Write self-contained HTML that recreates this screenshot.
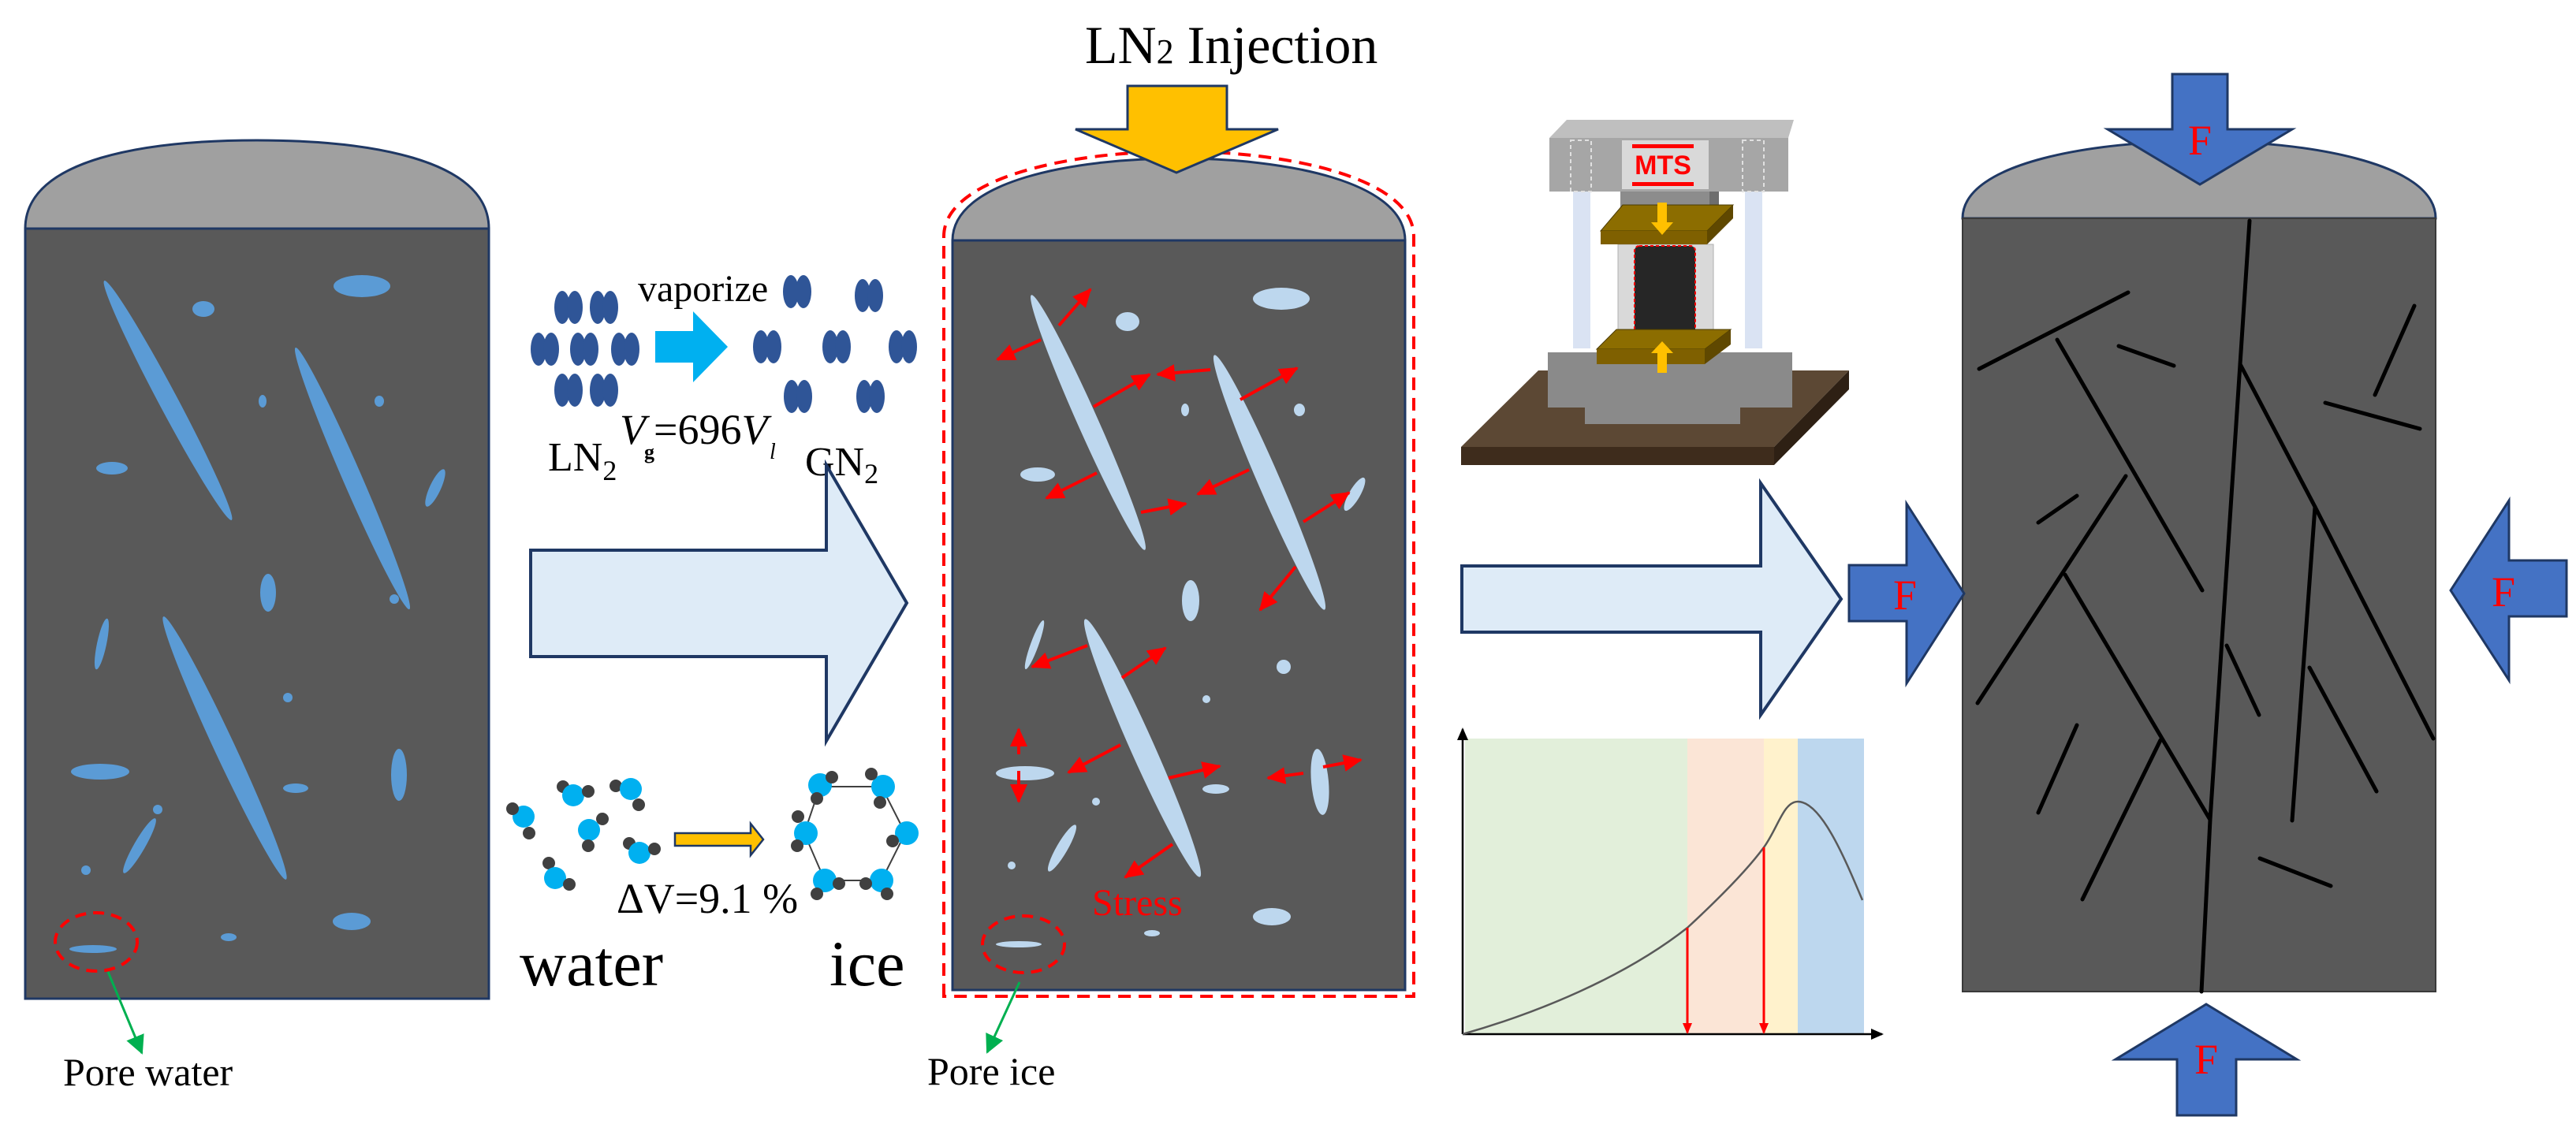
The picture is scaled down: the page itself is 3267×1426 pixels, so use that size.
<!DOCTYPE html>
<html><head><meta charset="utf-8"><style>
html,body{margin:0;padding:0;background:#fff;}
svg{display:block;}
svg text{font-family:"Liberation Serif","DejaVu Serif",serif;}
</style></head><body>
<svg xmlns="http://www.w3.org/2000/svg" width="3267" height="1426" viewBox="0 0 3267 1426" font-family="'Liberation Serif', serif">
<defs>
<marker id="ra" markerUnits="userSpaceOnUse" markerWidth="26" markerHeight="22" refX="22" refY="11" orient="auto"><path d="M0,0 L24,11 L0,22 Z" fill="#ff0000"/></marker>
<marker id="ga" markerUnits="userSpaceOnUse" markerWidth="26" markerHeight="24" refX="22" refY="12" orient="auto"><path d="M0,0 L24,12 L0,24 Z" fill="#00b050"/></marker>
<marker id="ka" markerUnits="userSpaceOnUse" markerWidth="16" markerHeight="14" refX="14" refY="7" orient="auto"><path d="M0,0 L16,7 L0,14 Z" fill="#000"/></marker>
<marker id="rd" markerUnits="userSpaceOnUse" markerWidth="14" markerHeight="12" refX="12" refY="6" orient="auto"><path d="M0,0 L14,6 L0,12 Z" fill="#ff0000"/></marker>
</defs>

<!-- LEFT CYLINDER -->
<path d="M32,290 C32,200 190,178 326,178 C462,178 620,200 620,290 Z" fill="#a0a0a0" stroke="#1f3864" stroke-width="3"/>
<rect x="32" y="290" width="588" height="977" fill="#595959" stroke="#1f3864" stroke-width="3"/>
<g fill="#5b9bd5">
<ellipse cx="213" cy="508" rx="172" ry="12" transform="rotate(62 213 508)"/>
<ellipse cx="447" cy="607" rx="181" ry="12" transform="rotate(66.5 447 607)"/>
<ellipse cx="285" cy="949" rx="184" ry="13" transform="rotate(65 285 949)"/>
<ellipse cx="258" cy="392" rx="14" ry="10"/>
<ellipse cx="459" cy="363" rx="36" ry="14"/>
<ellipse cx="333" cy="509" rx="5" ry="8"/>
<ellipse cx="481" cy="509" rx="6" ry="7"/>
<ellipse cx="142" cy="594" rx="20" ry="8"/>
<ellipse cx="552" cy="619" rx="7" ry="26" transform="rotate(25 552 619)"/>
<ellipse cx="340" cy="752" rx="10" ry="24"/>
<ellipse cx="129" cy="817" rx="6" ry="33" transform="rotate(12 129 817)"/>
<circle cx="365" cy="885" r="6"/>
<ellipse cx="127" cy="979" rx="37" ry="10"/>
<ellipse cx="375" cy="1000" rx="16" ry="6"/>
<ellipse cx="506" cy="983" rx="10" ry="33"/>
<circle cx="200" cy="1027" r="6"/>
<ellipse cx="177" cy="1073" rx="7" ry="40" transform="rotate(30 177 1073)"/>
<circle cx="500" cy="760" r="6"/>
<circle cx="109" cy="1104" r="6"/>
<ellipse cx="446" cy="1169" rx="24" ry="11"/>
<ellipse cx="290" cy="1189" rx="10" ry="5"/>
<ellipse cx="118" cy="1204" rx="30" ry="5"/>
</g>
<ellipse cx="122" cy="1195" rx="52" ry="37" fill="none" stroke="#ff0000" stroke-width="4" stroke-dasharray="14,9"/>
<line x1="137" y1="1233" x2="180" y2="1336" stroke="#00b050" stroke-width="3" marker-end="url(#ga)"/>
<text x="80" y="1377" font-size="50">Pore water</text>

<!-- vaporize -->
<g fill="#2f5597">
<g transform="translate(721,390)"><ellipse cx="-8" cy="0" rx="10" ry="21"/><ellipse cx="8" cy="0" rx="10" ry="21"/></g>
<g transform="translate(766,390)"><ellipse cx="-8" cy="0" rx="10" ry="21"/><ellipse cx="8" cy="0" rx="10" ry="21"/></g>
<g transform="translate(691,443)"><ellipse cx="-8" cy="0" rx="10" ry="21"/><ellipse cx="8" cy="0" rx="10" ry="21"/></g>
<g transform="translate(741,443)"><ellipse cx="-8" cy="0" rx="10" ry="21"/><ellipse cx="8" cy="0" rx="10" ry="21"/></g>
<g transform="translate(793,443)"><ellipse cx="-8" cy="0" rx="10" ry="21"/><ellipse cx="8" cy="0" rx="10" ry="21"/></g>
<g transform="translate(721,495)"><ellipse cx="-8" cy="0" rx="10" ry="21"/><ellipse cx="8" cy="0" rx="10" ry="21"/></g>
<g transform="translate(766,495)"><ellipse cx="-8" cy="0" rx="10" ry="21"/><ellipse cx="8" cy="0" rx="10" ry="21"/></g>
<g transform="translate(1011,370)"><ellipse cx="-8" cy="0" rx="10" ry="21"/><ellipse cx="8" cy="0" rx="10" ry="21"/></g>
<g transform="translate(1102,375)"><ellipse cx="-8" cy="0" rx="10" ry="21"/><ellipse cx="8" cy="0" rx="10" ry="21"/></g>
<g transform="translate(973,440)"><ellipse cx="-8" cy="0" rx="10" ry="21"/><ellipse cx="8" cy="0" rx="10" ry="21"/></g>
<g transform="translate(1061,440)"><ellipse cx="-8" cy="0" rx="10" ry="21"/><ellipse cx="8" cy="0" rx="10" ry="21"/></g>
<g transform="translate(1145,440)"><ellipse cx="-8" cy="0" rx="10" ry="21"/><ellipse cx="8" cy="0" rx="10" ry="21"/></g>
<g transform="translate(1012,503)"><ellipse cx="-8" cy="0" rx="10" ry="21"/><ellipse cx="8" cy="0" rx="10" ry="21"/></g>
<g transform="translate(1104,503)"><ellipse cx="-8" cy="0" rx="10" ry="21"/><ellipse cx="8" cy="0" rx="10" ry="21"/></g>
</g>
<path d="M831,420 L879,420 L879,395 L923,440 L879,485 L879,460 L831,460 Z" fill="#00b0f0"/>
<text x="809" y="382" font-size="48">vaporize</text>
<text x="695" y="597" font-size="52">LN<tspan font-size="36" dy="12">2</tspan></text>
<text x="786" y="563" font-size="54" font-style="italic">V</text>
<text x="817" y="582" font-size="26" font-weight="bold">g</text>
<text x="829" y="563" font-size="54">=696<tspan font-style="italic">V</tspan></text>
<text x="976" y="582" font-size="28" font-style="italic">l</text>
<text x="1021" y="603" font-size="52">GN<tspan font-size="36" dy="10">2</tspan></text>

<!-- big arrow 1 -->
<path d="M673,698 L1048,698 L1048,590 L1150,765 L1048,940 L1048,833 L673,833 Z" fill="#deebf7" stroke="#1f3864" stroke-width="4"/>

<!-- water -> ice -->
<g>
<g fill="#404040"><circle cx="714" cy="998" r="8"/><circle cx="781" cy="997" r="8"/><circle cx="798" cy="1070" r="8"/><circle cx="696" cy="1095" r="8"/></g>
<g fill="#00b0f0"><circle cx="664" cy="1036" r="14"/><circle cx="727" cy="1009" r="14"/><circle cx="800" cy="1001" r="14"/><circle cx="747" cy="1053" r="14"/><circle cx="811" cy="1082" r="14"/><circle cx="704" cy="1114" r="14"/></g>
<g fill="#404040"><circle cx="650" cy="1026" r="8"/><circle cx="671" cy="1057" r="8"/><circle cx="746" cy="1004" r="8"/><circle cx="810" cy="1021" r="8"/><circle cx="764" cy="1039" r="8"/><circle cx="746" cy="1073" r="8"/><circle cx="830" cy="1077" r="8"/><circle cx="722" cy="1122" r="8"/></g>
</g>
<path d="M856,1057 L952,1057 L952,1045 L968,1065 L952,1085 L952,1073 L856,1073 Z" fill="#ffc000" stroke="#1f3864" stroke-width="2.5"/>
<text x="782" y="1158" font-size="54">ΔV=9.1 %</text>
<text x="659" y="1250" font-size="82">water</text>
<text x="1052" y="1250" font-size="82">ice</text>
<!-- ice hexagon -->
<polygon points="1040,998 1118,998 1148,1057 1118,1117 1046,1117 1020,1057" fill="none" stroke="#404040" stroke-width="2"/>
<g fill="#00b0f0"><circle cx="1040" cy="996" r="15"/><circle cx="1120" cy="998" r="15"/><circle cx="1150" cy="1057" r="15"/><circle cx="1118" cy="1117" r="15"/><circle cx="1046" cy="1117" r="15"/><circle cx="1022" cy="1057" r="15"/></g>
<g fill="#404040"><circle cx="1055" cy="986" r="8"/><circle cx="1105" cy="982" r="8"/><circle cx="1036" cy="1013" r="8"/><circle cx="1116" cy="1018" r="8"/><circle cx="1012" cy="1036" r="8"/><circle cx="1011" cy="1073" r="8"/><circle cx="1132" cy="1067" r="8"/><circle cx="1064" cy="1121" r="8"/><circle cx="1098" cy="1121" r="8"/><circle cx="1036" cy="1134" r="8"/><circle cx="1125" cy="1134" r="8"/></g>

<!-- MIDDLE CYLINDER -->
<path d="M1197,1264 L1197,300 C1197,225 1360,192 1495,192 C1630,192 1793,225 1793,300 L1793,1264 Z" fill="none" stroke="#ff0000" stroke-width="4" stroke-dasharray="16,10"/>
<path d="M1208,305 C1208,230 1360,201 1495,201 C1630,201 1782,230 1782,305 Z" fill="#a0a0a0" stroke="#1f3864" stroke-width="3"/>
<rect x="1208" y="305" width="574" height="951" fill="#595959" stroke="#1f3864" stroke-width="3"/>
<g fill="#bdd7ee">
<ellipse cx="1380" cy="536" rx="177" ry="13" transform="rotate(66 1380 536)"/>
<ellipse cx="1610" cy="612" rx="176" ry="14" transform="rotate(66.6 1610 612)"/>
<ellipse cx="1449" cy="949" rx="179" ry="15" transform="rotate(66 1449 949)"/>
<ellipse cx="1430" cy="408" rx="15" ry="12"/>
<ellipse cx="1625" cy="379" rx="36" ry="14"/>
<ellipse cx="1503" cy="520" rx="5" ry="8"/>
<ellipse cx="1648" cy="520" rx="7" ry="8"/>
<ellipse cx="1316" cy="602" rx="22" ry="9"/>
<ellipse cx="1718" cy="627" rx="7" ry="24" transform="rotate(30 1718 627)"/>
<ellipse cx="1510" cy="762" rx="11" ry="26"/>
<ellipse cx="1312" cy="818" rx="5" ry="33" transform="rotate(20 1312 818)"/>
<circle cx="1628" cy="846" r="9"/>
<circle cx="1530" cy="887" r="5"/>
<ellipse cx="1300" cy="981" rx="37" ry="9"/>
<circle cx="1390" cy="1017" r="5"/>
<ellipse cx="1542" cy="1001" rx="17" ry="6"/>
<ellipse cx="1674" cy="992" rx="11" ry="42" transform="rotate(-5 1674 992)"/>
<ellipse cx="1347" cy="1076" rx="7" ry="34" transform="rotate(30 1347 1076)"/>
<circle cx="1283" cy="1098" r="5"/>
<ellipse cx="1613" cy="1163" rx="24" ry="11"/>
<ellipse cx="1461" cy="1184" rx="10" ry="4"/>
<ellipse cx="1292" cy="1198" rx="29" ry="4"/>
</g>
<g stroke="#ff0000" stroke-width="4" marker-end="url(#ra)">
<line x1="1343" y1="413" x2="1383" y2="367"/>
<line x1="1320" y1="431" x2="1265" y2="456"/>
<line x1="1387" y1="516" x2="1458" y2="475"/>
<line x1="1535" y1="469" x2="1468" y2="475"/>
<line x1="1573" y1="507" x2="1645" y2="467"/>
<line x1="1391" y1="600" x2="1327" y2="632"/>
<line x1="1447" y1="650" x2="1504" y2="639"/>
<line x1="1584" y1="596" x2="1519" y2="627"/>
<line x1="1653" y1="662" x2="1711" y2="625"/>
<line x1="1643" y1="719" x2="1598" y2="774"/>
<line x1="1379" y1="819" x2="1309" y2="846"/>
<line x1="1423" y1="860" x2="1478" y2="822"/>
<line x1="1292" y1="957" x2="1292" y2="925"/>
<line x1="1292" y1="978" x2="1292" y2="1017"/>
<line x1="1421" y1="945" x2="1355" y2="980"/>
<line x1="1482" y1="987" x2="1547" y2="972"/>
<line x1="1653" y1="981" x2="1608" y2="987"/>
<line x1="1678" y1="973" x2="1726" y2="964"/>
<line x1="1487" y1="1071" x2="1427" y2="1113"/>
</g>
<text x="1385" y="1161" font-size="48" fill="#ff0000">Stress</text>
<ellipse cx="1298" cy="1198" rx="52" ry="36" fill="none" stroke="#ff0000" stroke-width="4" stroke-dasharray="14,9"/>
<line x1="1293" y1="1246" x2="1252" y2="1335" stroke="#00b050" stroke-width="3" marker-end="url(#ga)"/>
<text x="1176" y="1376" font-size="50">Pore ice</text>
<!-- LN2 injection -->
<text x="1376" y="80" font-size="68">LN<tspan font-size="44">2</tspan> Injection</text>
<path d="M1430,109 L1556,109 L1556,164 L1621,164 L1492,219 L1364,164 L1430,164 Z" fill="#ffc000" stroke="#1f3864" stroke-width="3"/>

<!-- MTS machine -->
<path d="M1951,470 L2345,470 L2250,567 L1853,567 Z" fill="#5c4834"/>
<path d="M1853,567 L2250,567 L2250,590 L1853,590 Z" fill="#3e2c1c"/>
<path d="M2250,567 L2345,470 L2345,494 L2250,590 Z" fill="#2e2014"/>
<path d="M1963,447 L2273,447 L2273,517 L2207,517 L2207,538 L2010,538 L2010,517 L1963,517 Z" fill="#8a8a8a"/>
<rect x="1995" y="243" width="22" height="199" fill="#dae3f3"/>
<rect x="2213" y="243" width="22" height="199" fill="#dae3f3"/>
<path d="M1965,175 L1987,152 L2275,152 L2268,175 Z" fill="#bfbfbf"/>
<rect x="1965" y="175" width="303" height="68" fill="#a6a6a6"/>
<g fill="none" stroke="#e0e0e0" stroke-width="2" stroke-dasharray="5,4"><rect x="1992" y="178" width="26" height="65"/><rect x="2210" y="178" width="27" height="65"/></g>
<rect x="2057" y="178" width="110" height="62" fill="#d9d9d9"/>
<rect x="2070" y="183" width="78" height="5" fill="#ff0000"/>
<rect x="2070" y="231" width="78" height="5" fill="#ff0000"/>
<text x="2109" y="221" font-size="34" font-weight="bold" text-anchor="middle" fill="#ff0000" style="font-family:'Liberation Sans',sans-serif">MTS</text>
<rect x="2055" y="243" width="113" height="37" fill="#8c8c8c"/><rect x="2168" y="243" width="12" height="37" fill="#6e6e6e"/>
<rect x="2052" y="310" width="121" height="125" fill="#d9d9d9" stroke="#b0b0b0"/>
<rect x="2073" y="312" width="77" height="116" rx="6" fill="#262626" stroke="#ff0000" stroke-width="2" stroke-dasharray="4,3"/>
<path d="M2030,293 L2058,260 L2198,260 L2165,293 Z" fill="#8c6d00" stroke="#4a3a00" stroke-width="1"/>
<path d="M2030,293 L2165,293 L2165,310 L2030,310 Z" fill="#7f6000"/>
<path d="M2165,293 L2198,260 L2198,277 L2165,310 Z" fill="#5f4800"/>
<path d="M2025,443 L2050,418 L2195,418 L2162,443 Z" fill="#8c6d00" stroke="#4a3a00" stroke-width="1"/>
<path d="M2025,443 L2162,443 L2162,462 L2025,462 Z" fill="#7f6000"/>
<path d="M2162,443 L2195,418 L2195,437 L2162,462 Z" fill="#5f4800"/>
<path d="M2102,257 L2114,257 L2114,282 L2122,282 L2108,298 L2094,282 L2102,282 Z" fill="#ffc000"/>
<path d="M2102,473 L2114,473 L2114,448 L2122,448 L2108,433 L2094,448 L2102,448 Z" fill="#ffc000"/>

<!-- big arrow 2 -->
<path d="M1854,718 L2233,718 L2233,613 L2335,760 L2233,907 L2233,802 L1854,802 Z" fill="#deebf7" stroke="#1f3864" stroke-width="4"/>

<!-- chart -->
<rect x="1858" y="937" width="282" height="375" fill="#e2efda"/>
<rect x="2140" y="937" width="97" height="375" fill="#fbe5d6"/>
<rect x="2237" y="937" width="43" height="375" fill="#fff2cc"/>
<rect x="2280" y="937" width="84" height="375" fill="#bdd7ee"/>
<line x1="1855" y1="1312" x2="1855" y2="925" stroke="#000" stroke-width="2.5" marker-end="url(#ka)"/>
<line x1="1855" y1="1312" x2="2387" y2="1312" stroke="#000" stroke-width="2.5" marker-end="url(#ka)"/>
<path d="M1855,1312 C1950,1285 2060,1240 2140,1177 C2180,1140 2215,1105 2237,1075 C2255,1050 2262,1017 2280,1017 C2310,1017 2340,1090 2362,1142" fill="none" stroke="#595959" stroke-width="2.5"/>
<line x1="2140" y1="1177" x2="2140" y2="1310" stroke="#ff0000" stroke-width="3" marker-end="url(#rd)"/>
<line x1="2237" y1="1075" x2="2237" y2="1310" stroke="#ff0000" stroke-width="3" marker-end="url(#rd)"/>

<!-- RIGHT CYLINDER -->
<path d="M2489,277 C2489,205 2660,179 2790,179 C2920,179 3089,205 3089,277 Z" fill="#a0a0a0" stroke="#1f3864" stroke-width="3"/>
<rect x="2489" y="277" width="600" height="981" fill="#595959" stroke="#3a3a3a" stroke-width="2"/>
<g stroke="#000" stroke-width="5" fill="none" stroke-linecap="round">
<polyline points="2853,280 2841,462 2803,1040 2792,1258"/>
<polyline points="2841,462 2936,643 3086,937"/>
<line x1="2936" y1="643" x2="2907" y2="1041"/>
<line x1="2929" y1="847" x2="3014" y2="1004"/>
<line x1="2510" y1="468" x2="2699" y2="371"/>
<line x1="2609" y1="431" x2="2793" y2="749"/>
<line x1="2687" y1="439" x2="2757" y2="464"/>
<line x1="3062" y1="388" x2="3012" y2="501"/>
<line x1="2949" y1="511" x2="3069" y2="544"/>
<line x1="2585" y1="663" x2="2634" y2="629"/>
<line x1="2508" y1="892" x2="2696" y2="604"/>
<line x1="2619" y1="729" x2="2803" y2="1040"/>
<line x1="2585" y1="1031" x2="2634" y2="920"/>
<line x1="2641" y1="1141" x2="2740" y2="939"/>
<line x1="2824" y1="819" x2="2865" y2="907"/>
<line x1="2866" y1="1089" x2="2956" y2="1124"/>
</g>
<g fill="#4472c4" stroke="#1f3864" stroke-width="3">
<path d="M2755,94 L2825,94 L2825,164 L2907,164 L2790,234 L2673,164 L2755,164 Z"/>
<path d="M2761,1415 L2836,1415 L2836,1344 L2913,1344 L2798,1274 L2683,1344 L2761,1344 Z"/>
<path d="M2345,717 L2418,717 L2418,639 L2491,753 L2418,867 L2418,788 L2345,788 Z"/>
<path d="M3255,711 L3182,711 L3182,635 L3108,749 L3182,863 L3182,782 L3255,782 Z"/>
</g>
<g fill="#ff0000" font-size="54" text-anchor="middle">
<text x="2790" y="196">F</text>
<text x="2798" y="1362">F</text>
<text x="2416" y="773">F</text>
<text x="3175" y="769">F</text>
</g>
</svg>
</body></html>
